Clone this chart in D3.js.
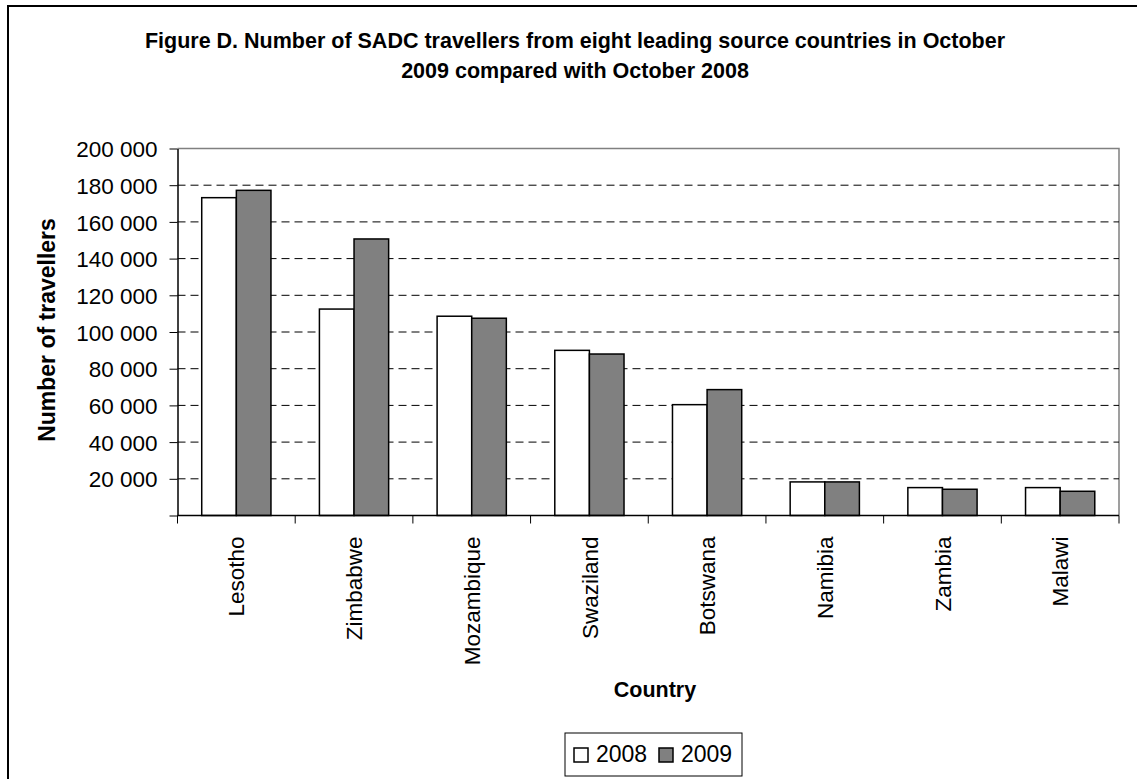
<!DOCTYPE html>
<html><head><meta charset="utf-8">
<script src="https://cdn.jsdelivr.net/npm/d3@7"></script>
<style>
html,body{margin:0;padding:0;background:#fff;}
svg{display:block;}
text{font-family:"Liberation Sans",Arial,sans-serif;fill:#000;}
</style></head>
<body>
<svg id="chart" width="1137" height="779"></svg>
<script>
const countries = ["Lesotho","Zimbabwe","Mozambique","Swaziland","Botswana","Namibia","Zambia","Malawi"];
const years = ["2008","2009"];
const values2008 = [173200,112500,108600,90000,60400,18300,15200,15200];
const values2009 = [177200,150700,107500,88000,68600,18300,14300,13200];
const yTicks = [0,20000,40000,60000,80000,100000,120000,140000,160000,180000,200000];
const colors = ["#ffffff","#808080"];
const titleLines = ["Figure D. Number of SADC travellers from eight leading source countries in October","2009 compared with October 2008"];

(function(){
const svg = d3.select("#chart");
const pLeft = 177.5, pRight = 1119, pTop = 148.5, pBottom = 515.5;

// outer frame
svg.append("rect").attr("x",8).attr("y",6).attr("width",1150).attr("height",800)
  .attr("fill","#fff").attr("stroke","#000").attr("stroke-width",2);

const x0 = d3.scaleBand().domain(countries).range([pLeft,pRight]).padding(0);
const x1 = d3.scaleBand().domain(years).range([0,x0.bandwidth()]).paddingInner(0).paddingOuter(0.7);
const y = d3.scaleLinear().domain([0,200000]).range([pBottom,pTop]);

// plot border (top/right gray)
svg.append("path").attr("d",`M${pLeft},${pTop}H${pRight}V${pBottom}`)
  .attr("fill","none").attr("stroke","#808080").attr("stroke-width",1.5);

// gridlines
svg.append("g").selectAll("line").data(yTicks.filter(t=>t>0 && t<200000)).join("line")
  .attr("x1",pLeft).attr("x2",pRight).attr("y1",d=>y(d)).attr("y2",d=>y(d))
  .attr("stroke","#000").attr("stroke-width",1).attr("stroke-dasharray","8,5");

// bars
const data = countries.map((c,i)=>({c, v:[values2008[i],values2009[i]]}));
const g = svg.append("g").selectAll("g").data(data).join("g")
  .attr("transform",d=>`translate(${x0(d.c)},0)`);
g.selectAll("rect").data(d=>d.v.map((v,j)=>({v,yr:years[j],j}))).join("rect")
  .attr("x",d=>x1(d.yr)).attr("width",x1.bandwidth())
  .attr("y",d=>y(d.v)).attr("height",d=>pBottom-y(d.v))
  .attr("fill",d=>colors[d.j]).attr("stroke","#000").attr("stroke-width",1.5);

// y axis
const fmt = d=> d===0 ? "" : d3.format(",")(d).replace(/,/g," ");
const yAxis = svg.append("g").attr("transform",`translate(${pLeft},0)`)
  .call(d3.axisLeft(y).tickValues(yTicks).tickFormat(fmt).tickSize(8).tickPadding(12).tickSizeOuter(0));
yAxis.select(".domain").attr("stroke","#000").attr("stroke-width",1.5);
yAxis.selectAll(".tick line").attr("stroke","#000").attr("stroke-width",1);
yAxis.selectAll(".tick text").style("font-size","22.5px").style("font-family","Liberation Sans, Arial, sans-serif").attr("dy","0.36em");

// x axis
const xAxisG = svg.append("g").attr("transform",`translate(0,${pBottom})`);
xAxisG.append("line").attr("x1",pLeft).attr("x2",pRight).attr("y1",0).attr("y2",0)
  .attr("stroke","#000").attr("stroke-width",1.5);
const bounds = countries.map(c=>x0(c)).concat([pRight]);
xAxisG.selectAll(".xt").data(bounds).join("line").attr("class","xt")
  .attr("x1",d=>d).attr("x2",d=>d).attr("y1",0).attr("y2",8)
  .attr("stroke","#000").attr("stroke-width",1);
xAxisG.selectAll(".xl").data(countries).join("text").attr("class","xl")
  .attr("transform",d=>`translate(${x0(d)+x0.bandwidth()/2},21) rotate(-90)`)
  .attr("text-anchor","end").attr("dy","0.36em")
  .style("font-size","22.5px").text(d=>d);

// title
svg.append("text").attr("x",575).attr("text-anchor","middle")
  .style("font-size","21.5px").style("font-weight","bold")
  .selectAll("tspan").data(titleLines).join("tspan")
  .attr("x",575).attr("y",(d,i)=>48+i*30).text(d=>d);

// axis titles
svg.append("text").attr("transform","translate(55,330) rotate(-90)")
  .attr("text-anchor","middle").style("font-size","23px").style("font-weight","bold")
  .text("Number of travellers");
svg.append("text").attr("x",655).attr("y",697).attr("text-anchor","middle")
  .style("font-size","21.5px").style("font-weight","bold").text("Country");

// legend
const lg = svg.append("g");
lg.append("rect").attr("x",565).attr("y",733).attr("width",177).attr("height",43)
  .attr("fill","#fff").attr("stroke","#000").attr("stroke-width",1);
const li = lg.selectAll("g").data(years).join("g")
  .attr("transform",(d,i)=>`translate(${574+i*85},748)`);
li.append("rect").attr("width",14).attr("height",14)
  .attr("fill",(d,i)=>colors[i]).attr("stroke","#000").attr("stroke-width",1.5);
li.append("text").attr("x",22).attr("y",14).style("font-size","23px").text(d=>d);
})();
</script>
</body></html>
